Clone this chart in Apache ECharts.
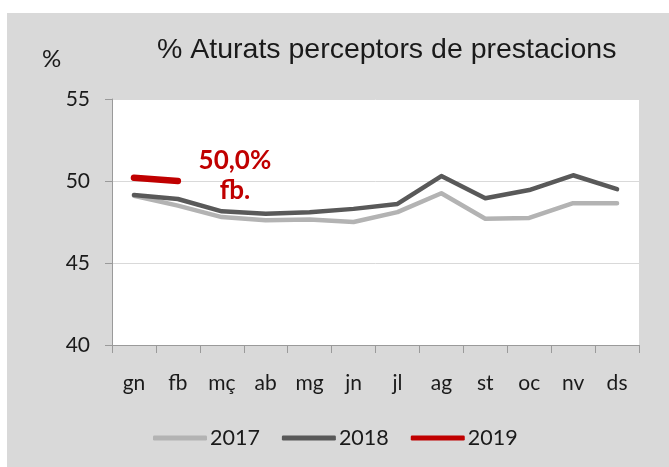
<!DOCTYPE html>
<html>
<head>
<meta charset="utf-8">
<script src="https://cdn.jsdelivr.net/npm/echarts@6/dist/echarts.min.js"></script>
<style>
html,body{margin:0;padding:0;background:#fff;}
#wrap{position:relative;width:669px;height:467px;overflow:hidden;}
#bg{position:absolute;left:7px;top:13px;width:662px;height:454px;background:#d9d9d9;}
#chart{position:absolute;left:0;top:0;width:669px;height:467px;}
</style>
</head>
<body>
<div id="wrap"><div id="bg"></div><div id="chart"></div></div>
<script>
const months = ['gn','fb','mç','ab','mg','jn','jl','ag','st','oc','nv','ds'];
const s2017 = [49.1, 48.5, 47.8, 47.6, 47.65, 47.5, 48.1, 49.25, 47.7, 47.75, 48.65, 48.65];
const s2018 = [49.15, 48.9, 48.15, 48.0, 48.1, 48.3, 48.6, 50.3, 48.95, 49.45, 50.35, 49.5];
const s2019 = [50.2, 50.0];
const seriesNames = ['2017','2018','2019'];
const yTicks = [40, 45, 50, 55];
const titleText = '% Aturats perceptors de prestacions';
const lastLabelName = 'fb.';

const chart = echarts.init(document.getElementById('chart'), null, {renderer:'canvas'});
const font = 'Lato, "Open Sans", sans-serif';
const txt = '#1a1a1a';

const d2019 = s2019.map((v,i)=>{
  if(i === s2019.length-1){
    return {value:v, symbol:'circle', symbolSize:0.1,
      label:{show:true, position:'inside', offset:[57,-5],
        formatter: p => v.toFixed(1).replace('.',',') + '%\n' + lastLabelName,
        color:'#c00000', fontFamily:font, fontWeight:'bold', fontSize:26,
        lineHeight:30, align:'center', verticalAlign:'middle'}};
  }
  return {value:v, symbol:'none'};
});

chart.setOption({
  backgroundColor:'transparent',
  animation:false,
  title:{text:titleText, left:152, top:31,
    textStyle:{fontFamily:'"Liberation Sans", Arial, sans-serif', fontWeight:'normal', fontSize:28.5, color:txt}},
  graphic:[{type:'text', left:42, top:47, style:{text:'%', fontFamily:font, fontSize:24, fill:txt}}],
  legend:{bottom:13, left:148, itemWidth:54, itemHeight:5, itemGap:22,
    icon:'roundRect',
    textStyle:{fontFamily:font, fontSize:21.5, color:txt, padding:[0,0,0,-2]},
    data:seriesNames},
  grid:{left:112, right:30, top:99, bottom:122, show:true, backgroundColor:'#fff', borderWidth:0},
  xAxis:{type:'category', data:months, boundaryGap:true,
    axisLine:{lineStyle:{color:'#9a9a9a', width:1}},
    axisTick:{show:true, length:8, lineStyle:{color:'#9a9a9a'}},
    axisLabel:{color:txt, fontFamily:font, fontSize:21, margin:28}},
  yAxis:{type:'value', min:yTicks[0], max:yTicks[yTicks.length-1], interval:5,
    axisLine:{show:true, lineStyle:{color:'#9a9a9a', width:1}},
    axisTick:{show:true, length:7, lineStyle:{color:'#9a9a9a'}},
    splitLine:{lineStyle:{color:'#d9d9d9', width:1}},
    axisLabel:{color:txt, fontFamily:font, fontSize:21, margin:22}},
  series:[
    {name:seriesNames[0], type:'line', data:s2017, showSymbol:false, symbol:'none',
      lineStyle:{color:'#b3b3b3', width:4.5, cap:'round', join:'round'}, itemStyle:{color:'#b3b3b3'}, z:2},
    {name:seriesNames[1], type:'line', data:s2018, showSymbol:false, symbol:'none',
      lineStyle:{color:'#595959', width:4.5, cap:'round', join:'round'}, itemStyle:{color:'#595959'}, z:3},
    {name:seriesNames[2], type:'line', data:d2019,
      lineStyle:{color:'#c00000', width:6.5, cap:'round', join:'round'}, itemStyle:{color:'#c00000'}, z:4}
  ]
});
</script>
</body>
</html>
